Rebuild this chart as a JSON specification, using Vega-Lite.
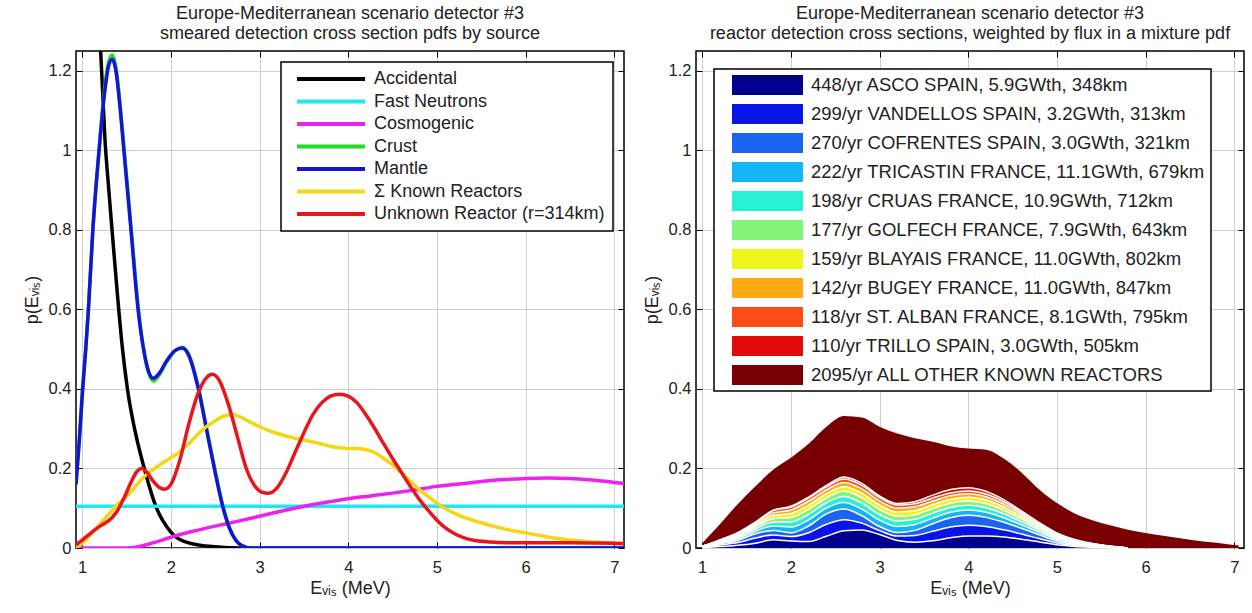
{
"$schema":"https://vega.github.io/schema/vega-lite/v6.json",
"background":"white",
"padding":{"left":22,"top":3,"right":2,"bottom":4},
"spacing":16,
"resolve":{"scale":{"color":"independent"},"legend":{"color":"independent"}},
"config":{
 "font":"Liberation Sans",
 "view":{"stroke":"black","strokeWidth":1.5},
 "axis":{"labelFont":"Liberation Sans","labelFontSize":16.5,"labelColor":"#222222","titleFont":"Liberation Sans","titleFontSize":18,"titleFontWeight":"normal","titleColor":"#222222","grid":true,"gridColor":"#cfcfcf","gridWidth":1,"gridOpacity":1,"domain":false,"ticks":true,"tickColor":"#000000","tickSize":-6,"tickWidth":1},
 "axisX":{"labelPadding":17,"titlePadding":4},
 "axisY":{"labelPadding":11,"titlePadding":7},
 "legend":{"labelFont":"Liberation Sans","labelFontSize":18,"labelColor":"#222222","strokeColor":"black","fillColor":"white","labelLimit":0,"cornerRadius":0,"strokeWidth":1.5},
 "title":{"font":"Liberation Sans","fontSize":18,"fontWeight":"normal","color":"#222222","anchor":"middle","frame":"group","offset":8,"lineHeight":20}
},
"hconcat":[
{
 "width":548,"height":497,
 "title":{"text":["Europe-Mediterranean scenario detector #3","smeared detection cross section pdfs by source"]},
 "data":{"values":[
{"s":"Accidental","e":0.93,"p":4.6},{"s":"Accidental","e":1.0,"p":3.5},{"s":"Accidental","e":1.1,"p":2.1},{"s":"Accidental","e":1.15,"p":1.6},{"s":"Accidental","e":1.207,"p":1.254},{"s":"Accidental","e":1.256,"p":1.03},{"s":"Accidental","e":1.3,"p":0.9},{"s":"Accidental","e":1.34,"p":0.79},{"s":"Accidental","e":1.4,"p":0.63},{"s":"Accidental","e":1.45,"p":0.51},{"s":"Accidental","e":1.51,"p":0.4},{"s":"Accidental","e":1.6,"p":0.29},{"s":"Accidental","e":1.7,"p":0.2},{"s":"Accidental","e":1.83,"p":0.105},{"s":"Accidental","e":2.0,"p":0.04},{"s":"Accidental","e":2.2,"p":0.013},{"s":"Accidental","e":2.5,"p":0.003},{"s":"Accidental","e":2.8,"p":0},{"s":"Accidental","e":7.11,"p":0},
{"s":"Fast Neutrons","e":0.93,"p":0.105},{"s":"Fast Neutrons","e":7.11,"p":0.105},
{"s":"Cosmogenic","e":0.93,"p":0},{"s":"Cosmogenic","e":1.5,"p":0},{"s":"Cosmogenic","e":1.6,"p":0.002},{"s":"Cosmogenic","e":1.8,"p":0.013},{"s":"Cosmogenic","e":2.0,"p":0.027},{"s":"Cosmogenic","e":2.25,"p":0.042},{"s":"Cosmogenic","e":2.5,"p":0.055},{"s":"Cosmogenic","e":2.75,"p":0.067},{"s":"Cosmogenic","e":3.0,"p":0.08},{"s":"Cosmogenic","e":3.25,"p":0.093},{"s":"Cosmogenic","e":3.5,"p":0.105},{"s":"Cosmogenic","e":3.75,"p":0.115},{"s":"Cosmogenic","e":4.0,"p":0.124},{"s":"Cosmogenic","e":4.25,"p":0.131},{"s":"Cosmogenic","e":4.5,"p":0.138},{"s":"Cosmogenic","e":4.75,"p":0.146},{"s":"Cosmogenic","e":5.0,"p":0.155},{"s":"Cosmogenic","e":5.25,"p":0.161},{"s":"Cosmogenic","e":5.5,"p":0.167},{"s":"Cosmogenic","e":5.75,"p":0.172},{"s":"Cosmogenic","e":6.0,"p":0.175},{"s":"Cosmogenic","e":6.25,"p":0.176},{"s":"Cosmogenic","e":6.5,"p":0.175},{"s":"Cosmogenic","e":6.75,"p":0.171},{"s":"Cosmogenic","e":7.0,"p":0.165},{"s":"Cosmogenic","e":7.11,"p":0.162},
{"s":"Crust","e":0.93,"p":0.16},{"s":"Crust","e":0.97,"p":0.28},{"s":"Crust","e":1.005,"p":0.4},{"s":"Crust","e":1.04,"p":0.5},{"s":"Crust","e":1.07,"p":0.6},{"s":"Crust","e":1.12,"p":0.8},{"s":"Crust","e":1.19,"p":1.0},{"s":"Crust","e":1.25,"p":1.15},{"s":"Crust","e":1.3,"p":1.225},{"s":"Crust","e":1.34,"p":1.24},{"s":"Crust","e":1.38,"p":1.21},{"s":"Crust","e":1.43,"p":1.11},{"s":"Crust","e":1.47,"p":1.01},{"s":"Crust","e":1.55,"p":0.81},{"s":"Crust","e":1.63,"p":0.61},{"s":"Crust","e":1.7,"p":0.49},{"s":"Crust","e":1.75,"p":0.44},{"s":"Crust","e":1.8,"p":0.42},{"s":"Crust","e":1.87,"p":0.435},{"s":"Crust","e":1.95,"p":0.467},{"s":"Crust","e":2.05,"p":0.497},{"s":"Crust","e":2.13,"p":0.505},{"s":"Crust","e":2.2,"p":0.488},{"s":"Crust","e":2.31,"p":0.405},{"s":"Crust","e":2.4,"p":0.305},{"s":"Crust","e":2.49,"p":0.205},{"s":"Crust","e":2.59,"p":0.103},{"s":"Crust","e":2.66,"p":0.052},{"s":"Crust","e":2.73,"p":0.021},{"s":"Crust","e":2.8,"p":0.006},{"s":"Crust","e":2.9,"p":0},{"s":"Crust","e":7.11,"p":0},
{"s":"Mantle","e":0.93,"p":0.16},{"s":"Mantle","e":0.97,"p":0.28},{"s":"Mantle","e":1.005,"p":0.4},{"s":"Mantle","e":1.04,"p":0.5},{"s":"Mantle","e":1.07,"p":0.6},{"s":"Mantle","e":1.12,"p":0.8},{"s":"Mantle","e":1.19,"p":1.0},{"s":"Mantle","e":1.25,"p":1.14},{"s":"Mantle","e":1.3,"p":1.215},{"s":"Mantle","e":1.34,"p":1.229},{"s":"Mantle","e":1.38,"p":1.2},{"s":"Mantle","e":1.43,"p":1.1},{"s":"Mantle","e":1.47,"p":1.0},{"s":"Mantle","e":1.55,"p":0.8},{"s":"Mantle","e":1.63,"p":0.6},{"s":"Mantle","e":1.7,"p":0.49},{"s":"Mantle","e":1.75,"p":0.443},{"s":"Mantle","e":1.8,"p":0.427},{"s":"Mantle","e":1.87,"p":0.44},{"s":"Mantle","e":1.95,"p":0.47},{"s":"Mantle","e":2.05,"p":0.497},{"s":"Mantle","e":2.13,"p":0.503},{"s":"Mantle","e":2.2,"p":0.485},{"s":"Mantle","e":2.31,"p":0.4},{"s":"Mantle","e":2.4,"p":0.3},{"s":"Mantle","e":2.49,"p":0.2},{"s":"Mantle","e":2.59,"p":0.1},{"s":"Mantle","e":2.66,"p":0.05},{"s":"Mantle","e":2.73,"p":0.02},{"s":"Mantle","e":2.8,"p":0.006},{"s":"Mantle","e":2.9,"p":0},{"s":"Mantle","e":7.11,"p":0},
{"s":"Σ Known Reactors","e":0.93,"p":0.0},{"s":"Σ Known Reactors","e":1.0,"p":0.012},{"s":"Σ Known Reactors","e":1.1,"p":0.035},{"s":"Σ Known Reactors","e":1.2,"p":0.06},{"s":"Σ Known Reactors","e":1.3,"p":0.085},{"s":"Σ Known Reactors","e":1.4,"p":0.11},{"s":"Σ Known Reactors","e":1.5,"p":0.13},{"s":"Σ Known Reactors","e":1.6,"p":0.155},{"s":"Σ Known Reactors","e":1.7,"p":0.18},{"s":"Σ Known Reactors","e":1.8,"p":0.197},{"s":"Σ Known Reactors","e":1.9,"p":0.213},{"s":"Σ Known Reactors","e":2.0,"p":0.227},{"s":"Σ Known Reactors","e":2.1,"p":0.242},{"s":"Σ Known Reactors","e":2.2,"p":0.262},{"s":"Σ Known Reactors","e":2.3,"p":0.285},{"s":"Σ Known Reactors","e":2.4,"p":0.305},{"s":"Σ Known Reactors","e":2.5,"p":0.32},{"s":"Σ Known Reactors","e":2.6,"p":0.332},{"s":"Σ Known Reactors","e":2.7,"p":0.335},{"s":"Σ Known Reactors","e":2.8,"p":0.328},{"s":"Σ Known Reactors","e":2.9,"p":0.316},{"s":"Σ Known Reactors","e":3.0,"p":0.305},{"s":"Σ Known Reactors","e":3.2,"p":0.288},{"s":"Σ Known Reactors","e":3.4,"p":0.276},{"s":"Σ Known Reactors","e":3.6,"p":0.267},{"s":"Σ Known Reactors","e":3.8,"p":0.256},{"s":"Σ Known Reactors","e":3.9,"p":0.252},{"s":"Σ Known Reactors","e":4.0,"p":0.25},{"s":"Σ Known Reactors","e":4.1,"p":0.25},{"s":"Σ Known Reactors","e":4.2,"p":0.247},{"s":"Σ Known Reactors","e":4.3,"p":0.24},{"s":"Σ Known Reactors","e":4.4,"p":0.225},{"s":"Σ Known Reactors","e":4.5,"p":0.209},{"s":"Σ Known Reactors","e":4.6,"p":0.19},{"s":"Σ Known Reactors","e":4.7,"p":0.168},{"s":"Σ Known Reactors","e":4.8,"p":0.147},{"s":"Σ Known Reactors","e":4.9,"p":0.13},{"s":"Σ Known Reactors","e":5.0,"p":0.113},{"s":"Σ Known Reactors","e":5.2,"p":0.087},{"s":"Σ Known Reactors","e":5.4,"p":0.07},{"s":"Σ Known Reactors","e":5.6,"p":0.057},{"s":"Σ Known Reactors","e":5.8,"p":0.046},{"s":"Σ Known Reactors","e":6.0,"p":0.038},{"s":"Σ Known Reactors","e":6.25,"p":0.028},{"s":"Σ Known Reactors","e":6.5,"p":0.02},{"s":"Σ Known Reactors","e":6.75,"p":0.015},{"s":"Σ Known Reactors","e":7.0,"p":0.012},{"s":"Σ Known Reactors","e":7.11,"p":0.011},
{"s":"Unknown Reactor (r=314km)","e":0.93,"p":0.008},{"s":"Unknown Reactor (r=314km)","e":1.0,"p":0.02},{"s":"Unknown Reactor (r=314km)","e":1.1,"p":0.038},{"s":"Unknown Reactor (r=314km)","e":1.2,"p":0.055},{"s":"Unknown Reactor (r=314km)","e":1.26,"p":0.063},{"s":"Unknown Reactor (r=314km)","e":1.33,"p":0.075},{"s":"Unknown Reactor (r=314km)","e":1.4,"p":0.095},{"s":"Unknown Reactor (r=314km)","e":1.47,"p":0.125},{"s":"Unknown Reactor (r=314km)","e":1.55,"p":0.165},{"s":"Unknown Reactor (r=314km)","e":1.62,"p":0.193},{"s":"Unknown Reactor (r=314km)","e":1.67,"p":0.2},{"s":"Unknown Reactor (r=314km)","e":1.72,"p":0.193},{"s":"Unknown Reactor (r=314km)","e":1.8,"p":0.168},{"s":"Unknown Reactor (r=314km)","e":1.87,"p":0.152},{"s":"Unknown Reactor (r=314km)","e":1.93,"p":0.148},{"s":"Unknown Reactor (r=314km)","e":2.0,"p":0.16},{"s":"Unknown Reactor (r=314km)","e":2.1,"p":0.22},{"s":"Unknown Reactor (r=314km)","e":2.2,"p":0.31},{"s":"Unknown Reactor (r=314km)","e":2.3,"p":0.385},{"s":"Unknown Reactor (r=314km)","e":2.4,"p":0.428},{"s":"Unknown Reactor (r=314km)","e":2.47,"p":0.437},{"s":"Unknown Reactor (r=314km)","e":2.55,"p":0.42},{"s":"Unknown Reactor (r=314km)","e":2.65,"p":0.36},{"s":"Unknown Reactor (r=314km)","e":2.75,"p":0.28},{"s":"Unknown Reactor (r=314km)","e":2.85,"p":0.2},{"s":"Unknown Reactor (r=314km)","e":2.95,"p":0.155},{"s":"Unknown Reactor (r=314km)","e":3.03,"p":0.14},{"s":"Unknown Reactor (r=314km)","e":3.1,"p":0.138},{"s":"Unknown Reactor (r=314km)","e":3.2,"p":0.152},{"s":"Unknown Reactor (r=314km)","e":3.3,"p":0.19},{"s":"Unknown Reactor (r=314km)","e":3.4,"p":0.24},{"s":"Unknown Reactor (r=314km)","e":3.5,"p":0.29},{"s":"Unknown Reactor (r=314km)","e":3.6,"p":0.335},{"s":"Unknown Reactor (r=314km)","e":3.7,"p":0.365},{"s":"Unknown Reactor (r=314km)","e":3.8,"p":0.382},{"s":"Unknown Reactor (r=314km)","e":3.9,"p":0.387},{"s":"Unknown Reactor (r=314km)","e":4.0,"p":0.382},{"s":"Unknown Reactor (r=314km)","e":4.1,"p":0.365},{"s":"Unknown Reactor (r=314km)","e":4.2,"p":0.335},{"s":"Unknown Reactor (r=314km)","e":4.3,"p":0.3},{"s":"Unknown Reactor (r=314km)","e":4.4,"p":0.262},{"s":"Unknown Reactor (r=314km)","e":4.5,"p":0.225},{"s":"Unknown Reactor (r=314km)","e":4.6,"p":0.19},{"s":"Unknown Reactor (r=314km)","e":4.7,"p":0.155},{"s":"Unknown Reactor (r=314km)","e":4.8,"p":0.123},{"s":"Unknown Reactor (r=314km)","e":4.9,"p":0.095},{"s":"Unknown Reactor (r=314km)","e":5.0,"p":0.07},{"s":"Unknown Reactor (r=314km)","e":5.1,"p":0.05},{"s":"Unknown Reactor (r=314km)","e":5.2,"p":0.036},{"s":"Unknown Reactor (r=314km)","e":5.3,"p":0.026},{"s":"Unknown Reactor (r=314km)","e":5.4,"p":0.02},{"s":"Unknown Reactor (r=314km)","e":5.6,"p":0.015},{"s":"Unknown Reactor (r=314km)","e":5.8,"p":0.013},{"s":"Unknown Reactor (r=314km)","e":6.0,"p":0.013},{"s":"Unknown Reactor (r=314km)","e":6.5,"p":0.013},{"s":"Unknown Reactor (r=314km)","e":7.0,"p":0.012},{"s":"Unknown Reactor (r=314km)","e":7.11,"p":0.011}
 ]},
 "resolve":{"axis":{"x":"independent","y":"independent"}},
 "layer":[
  {"mark":{"type":"line","strokeWidth":3.5,"interpolate":"monotone","clip":true},
   "encoding":{
    "x":{"field":"e","type":"quantitative","scale":{"domain":[0.93,7.11],"nice":false,"zero":false},"axis":{"title":"Eᵥᵢₛ (MeV)","values":[1,2,3,4,5,6,7],"format":"d"}},
    "y":{"field":"p","type":"quantitative","scale":{"domain":[0,1.25],"nice":false},"axis":{"title":"p(Eᵥᵢₛ)","values":[0,0.2,0.4,0.6,0.8,1,1.2],"format":"~g"}},
    "color":{"field":"s","type":"nominal","scale":{"domain":["Accidental","Fast Neutrons","Cosmogenic","Crust","Mantle","Σ Known Reactors","Unknown Reactor (r=314km)"],"range":["#000000","#22e6f0","#ee22ee","#22dd22","#1414d8","#f5d614","#e8161c"]},
     "legend":{"title":null,"orient":"top-right","offset":11,"symbolType":"stroke","symbolSize":4624,"symbolStrokeWidth":4,"clipHeight":18,"rowPadding":4.5,"padding":8,"symbolOffset":6,"labelOffset":7}}
   }},
  {"mark":{"type":"point","opacity":0,"clip":true},
   "encoding":{
    "x":{"field":"e","type":"quantitative","scale":{"domain":[0.93,7.11],"nice":false,"zero":false},"axis":{"orient":"top","labels":false,"title":null,"grid":false,"values":[1,2,3,4,5,6,7]}},
    "y":{"field":"p","type":"quantitative","scale":{"domain":[0,1.25],"nice":false},"axis":{"orient":"right","labels":false,"title":null,"grid":false,"values":[0,0.2,0.4,0.6,0.8,1,1.2]}}
   }}
 ]
},
{
 "width":548,"height":497,
 "title":{"text":["Europe-Mediterranean scenario detector #3","reactor detection cross sections, weighted by flux in a mixture pdf"]},
 "data":{"values":[
{"e":1.0,"s11":0.0005,"s10":0.001,"s09":0.001,"s08":0.0004,"s07":0.0004,"s06":0.0003,"s05":0.0003,"s04":0.0003,"s03":0.0002,"s02":0,"s01":0.0076},
{"e":1.2,"s11":0.0037,"s10":0.004,"s09":0.003,"s08":0.0021,"s07":0.0019,"s06":0.0017,"s05":0.0015,"s04":0.0013,"s03":0.0011,"s02":0.0002,"s01":0.0395},
{"e":1.4,"s11":0.0067,"s10":0.007,"s09":0.0054,"s08":0.0042,"s07":0.0037,"s06":0.0033,"s05":0.003,"s04":0.0027,"s03":0.0022,"s02":0.0004,"s01":0.0714},
{"e":1.6,"s11":0.0122,"s10":0.013,"s09":0.0108,"s08":0.0063,"s07":0.0056,"s06":0.005,"s05":0.0045,"s04":0.004,"s03":0.0033,"s02":0.0005,"s01":0.0898},
{"e":1.8,"s11":0.0206,"s10":0.012,"s09":0.0115,"s08":0.0111,"s07":0.0097,"s06":0.0089,"s05":0.0077,"s04":0.0068,"s03":0.0057,"s02":0.001,"s01":0.102},
{"e":2.0,"s11":0.0177,"s10":0.011,"s09":0.0096,"s08":0.0145,"s07":0.0128,"s06":0.0114,"s05":0.01,"s04":0.0087,"s03":0.0076,"s02":0.0016,"s01":0.1221},
{"e":2.2,"s11":0.0164,"s10":0.022,"s09":0.0169,"s08":0.0156,"s07":0.0138,"s06":0.0123,"s05":0.011,"s04":0.0097,"s03":0.0079,"s02":0.0024,"s01":0.134},
{"e":2.4,"s11":0.0296,"s10":0.03,"s09":0.0261,"s08":0.0149,"s07":0.0133,"s06":0.0119,"s05":0.0107,"s04":0.0095,"s03":0.0079,"s02":0.0034,"s01":0.1477},
{"e":2.6,"s11":0.0433,"s10":0.028,"s09":0.0268,"s08":0.0165,"s07":0.0147,"s06":0.0132,"s05":0.0118,"s04":0.0106,"s03":0.0088,"s02":0.0049,"s01":0.1534},
{"e":2.8,"s11":0.0455,"s10":0.017,"s09":0.0185,"s08":0.0168,"s07":0.0149,"s06":0.0134,"s05":0.012,"s04":0.0107,"s03":0.0089,"s02":0.0048,"s01":0.1655},
{"e":3.0,"s11":0.0338,"s10":0.01,"s09":0.0102,"s08":0.016,"s07":0.0142,"s06":0.0127,"s05":0.0114,"s04":0.0102,"s03":0.0085,"s02":0.0038,"s01":0.1742},
{"e":3.2,"s11":0.019,"s10":0.011,"s09":0.0089,"s08":0.0152,"s07":0.0135,"s06":0.0121,"s05":0.0109,"s04":0.0097,"s03":0.0081,"s02":0.0037,"s01":0.1759},
{"e":3.4,"s11":0.0146,"s10":0.017,"s09":0.0127,"s08":0.0147,"s07":0.0131,"s06":0.0117,"s05":0.0105,"s04":0.0094,"s03":0.0078,"s02":0.0051,"s01":0.1594},
{"e":3.6,"s11":0.018,"s10":0.024,"s09":0.0191,"s08":0.0141,"s07":0.0126,"s06":0.0113,"s05":0.0101,"s04":0.009,"s03":0.0075,"s02":0.0073,"s01":0.134},
{"e":3.8,"s11":0.0256,"s10":0.027,"s09":0.0236,"s08":0.0136,"s07":0.0121,"s06":0.0109,"s05":0.0098,"s04":0.0087,"s03":0.0072,"s02":0.0084,"s01":0.1091},
{"e":4.0,"s11":0.0304,"s10":0.027,"s09":0.0247,"s08":0.0134,"s07":0.0119,"s06":0.0107,"s05":0.0096,"s04":0.0085,"s03":0.0071,"s02":0.0085,"s01":0.0982},
{"e":4.2,"s11":0.0301,"s10":0.024,"s09":0.0229,"s08":0.0128,"s07":0.0114,"s06":0.0102,"s05":0.0092,"s04":0.0082,"s03":0.0068,"s02":0.0071,"s01":0.1043},
{"e":4.4,"s11":0.0277,"s10":0.018,"s09":0.0191,"s08":0.0113,"s07":0.01,"s06":0.009,"s05":0.0081,"s04":0.0072,"s03":0.006,"s02":0.0051,"s01":0.1035},
{"e":4.6,"s11":0.0222,"s10":0.013,"s09":0.0143,"s08":0.0089,"s07":0.0079,"s06":0.0071,"s05":0.0064,"s04":0.0057,"s03":0.0047,"s02":0.0029,"s01":0.0969},
{"e":4.8,"s11":0.0153,"s10":0.0085,"s09":0.0095,"s08":0.0063,"s07":0.0056,"s06":0.005,"s05":0.0045,"s04":0.004,"s03":0.0033,"s02":0.0018,"s01":0.0832},
{"e":5.0,"s11":0.008,"s10":0.0045,"s09":0.0052,"s08":0.0042,"s07":0.0037,"s06":0.0033,"s05":0.003,"s04":0.0027,"s03":0.0022,"s02":0.0012,"s01":0.075},
{"e":5.2,"s11":0.004,"s10":0.002,"s09":0.0025,"s08":0.0026,"s07":0.0023,"s06":0.0021,"s05":0.0019,"s04":0.0017,"s03":0.0014,"s02":0.0007,"s01":0.0658},
{"e":5.4,"s11":0.002,"s10":0.001,"s09":0.0012,"s08":0.0015,"s07":0.0013,"s06":0.0012,"s05":0.0011,"s04":0.0009,"s03":0.0008,"s02":0.0004,"s01":0.0586},
{"e":5.6,"s11":0.0008,"s10":0.0004,"s09":0.0005,"s08":0.0006,"s07":0.0006,"s06":0.0005,"s05":0.0005,"s04":0.0004,"s03":0.0003,"s02":0.0002,"s01":0.0522},
{"e":5.8,"s11":0,"s10":0,"s09":0,"s08":0,"s07":0,"s06":0,"s05":0,"s04":0,"s03":0,"s02":0,"s01":0.046},
{"e":6.0,"s01":0.038},
{"e":6.2,"s01":0.031},
{"e":6.5,"s01":0.021},
{"e":6.8,"s01":0.013},
{"e":7.05,"s01":0.006}
 ]},
 "transform":[{"fold":["s11","s10","s09","s08","s07","s06","s05","s04","s03","s02","s01"],"as":["key","v"]},{"filter":"isValid(datum.v)"}],
 "resolve":{"axis":{"x":"independent","y":"independent"}},
 "layer":[
  {"mark":{"type":"area","interpolate":"monotone"},
   "encoding":{
    "x":{"field":"e","type":"quantitative","scale":{"domain":[0.93,7.11],"nice":false,"zero":false},"axis":{"title":"Eᵥᵢₛ (MeV)","values":[1,2,3,4,5,6,7],"format":"d"}},
    "y":{"field":"v","type":"quantitative","stack":"zero","scale":{"domain":[0,1.25],"nice":false},"axis":{"title":"p(Eᵥᵢₛ)","values":[0,0.2,0.4,0.6,0.8,1,1.2],"format":"~g"}},
    "color":{"field":"key","type":"nominal","scale":{"domain":["s11","s10","s09","s08","s07","s06","s05","s04","s03","s02","s01"],"range":["#00008c","#0a14e6","#1a64f0","#14b4f5","#28f0d7","#82f578","#f0f51e","#ffaa14","#ff4b14","#e10a0a","#780000"]},
     "legend":{"title":null,"orient":"top-left","offset":18,"labelFontSize":18.5,"symbolType":"M-1,-0.282H1V0.282H-1Z","symbolSize":5041,"symbolStrokeWidth":0,"clipHeight":20,"rowPadding":9,"padding":6,"symbolOffset":12,"labelOffset":8,
      "labelExpr":"{'s11':'448/yr ASCO SPAIN, 5.9GWth, 348km','s10':'299/yr VANDELLOS SPAIN, 3.2GWth, 313km','s09':'270/yr COFRENTES SPAIN, 3.0GWth, 321km','s08':'222/yr TRICASTIN FRANCE, 11.1GWth, 679km','s07':'198/yr CRUAS FRANCE, 10.9GWth, 712km','s06':'177/yr GOLFECH FRANCE, 7.9GWth, 643km','s05':'159/yr BLAYAIS FRANCE, 11.0GWth, 802km','s04':'142/yr BUGEY FRANCE, 11.0GWth, 847km','s03':'118/yr ST. ALBAN FRANCE, 8.1GWth, 795km','s02':'110/yr TRILLO SPAIN, 3.0GWth, 505km','s01':'2095/yr ALL OTHER KNOWN REACTORS'}[datum.label]"}}
   }},
  {"transform":[{"filter":"datum.key != 's01'"}],
   "mark":{"type":"line","interpolate":"monotone","stroke":"white","strokeWidth":1.5},
   "encoding":{
    "x":{"field":"e","type":"quantitative","scale":{"domain":[0.93,7.11],"nice":false,"zero":false},"axis":null},
    "y":{"field":"v","type":"quantitative","stack":"zero","impute":null,"scale":{"domain":[0,1.25],"nice":false},"axis":null},
    "detail":{"field":"key","type":"nominal"}
   }},
  {"mark":{"type":"point","opacity":0,"clip":true},
   "encoding":{
    "x":{"field":"e","type":"quantitative","scale":{"domain":[0.93,7.11],"nice":false,"zero":false},"axis":{"orient":"top","labels":false,"title":null,"grid":false,"values":[1,2,3,4,5,6,7]}},
    "y":{"field":"v","type":"quantitative","scale":{"domain":[0,1.25],"nice":false},"axis":{"orient":"right","labels":false,"title":null,"grid":false,"values":[0,0.2,0.4,0.6,0.8,1,1.2]}}
   }}
 ]
}
]
}
